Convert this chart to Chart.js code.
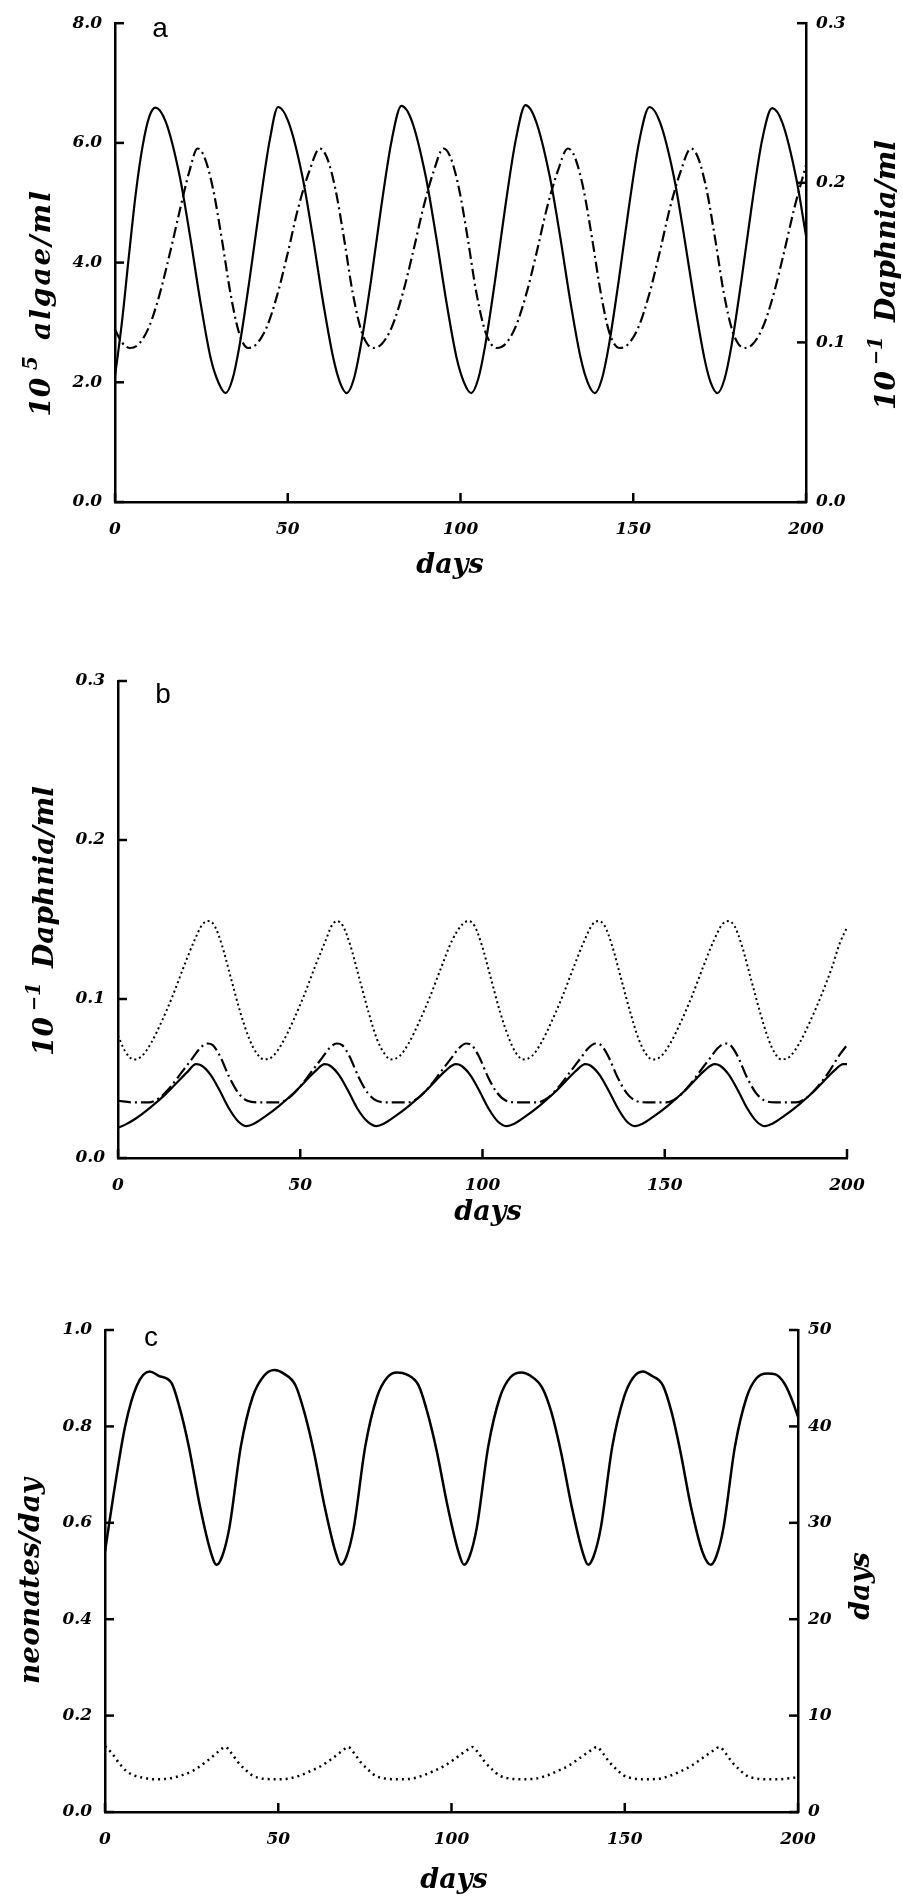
<!DOCTYPE html>
<html>
<head>
<meta charset="utf-8">
<script src="https://cdn.jsdelivr.net/npm/chart.js@4.4.1/dist/chart.umd.min.js"></script>
<style>
  html, body { margin: 0; padding: 0; background: #fff; }
  body { width: 903px; height: 1896px; position: relative; overflow: hidden; }
  canvas { position: absolute; left: 0; }
</style>
</head>
<body>
<canvas id="chartA" width="903" height="600" style="top:0px"></canvas>
<canvas id="chartB" width="903" height="620" style="top:620px"></canvas>
<canvas id="chartC" width="903" height="626" style="top:1270px"></canvas>
<script>
// tick values
var dayTicks = [0, 50, 100, 150, 200];
var algaeTicks = [0, 2, 4, 6, 8];
var daphTicks = [0, 0.1, 0.2, 0.3];
var neoTicks = [0, 0.2, 0.4, 0.6, 0.8, 1.0];
var ageTicks = [0, 10, 20, 30, 40, 50];

// panel a : algae (10^5/ml) and Daphnia (10^-1/ml), [day, value]
var algaeA = [[0,2.1],[2,3.0],[4,4.1],[6,5.15],[8,5.95],[10,6.45],[11.7,6.59],[14.7,6.35],[18.7,5.45],[21.7,4.45],[24.7,3.35],[27.7,2.4],[29.9,2.0],[32,1.82],
  [34,2.05],[36,2.6],[38.9,3.7],[41.9,4.95],[44.8,6.05],[47.2,6.6],[50.2,6.35],[54.2,5.45],[57.2,4.45],[60.2,3.35],[63.2,2.4],[65.1,2.0],[67.1,1.82],
  [69.1,2.05],[71.1,2.6],[74.1,3.7],[77.1,4.95],[80.1,6.05],[82.9,6.62],[85.9,6.37],[89.9,5.45],[92.9,4.45],[95.9,3.35],[98.9,2.4],[101,2.0],[103.1,1.82],
  [105.1,2.05],[107.1,2.6],[110,3.7],[113,4.95],[116,6.05],[118.8,6.63],[121.8,6.37],[125.8,5.45],[128.8,4.45],[131.8,3.35],[134.8,2.4],[136.8,2.0],[138.9,1.82],
  [140.9,2.05],[142.9,2.6],[145.8,3.7],[148.8,4.95],[151.8,6.05],[154.7,6.6],[157.7,6.35],[161.7,5.45],[164.7,4.45],[167.7,3.35],[170.6,2.4],[172.4,2.0],[174.4,1.82],
  [176.4,2.05],[178.4,2.6],[181.3,3.7],[184.3,4.95],[187.3,6.05],[190.2,6.58],[193.2,6.33],[197.2,5.4],[200,4.45]];
var daphA = [[0,0.108],[2,0.1],[4.4,0.0965],[6.9,0.099],[9.9,0.11],[12.9,0.13],[15.9,0.156],[18.9,0.184],[21.5,0.207],[23.9,0.2215],[25.9,0.216],[28.4,0.196],[30.9,0.165],[33.4,0.131],[35.9,0.106],
  [38.5,0.0965],[41,0.099],[44,0.11],[47,0.13],[50,0.156],[53,0.184],[56.2,0.207],[59.3,0.2215],[61.3,0.216],[63.8,0.196],[66.3,0.165],[68.8,0.131],[71.5,0.106],
  [74.7,0.0965],[77.2,0.099],[80.2,0.11],[83.2,0.13],[86.2,0.156],[89.2,0.184],[92.2,0.207],[95.1,0.2215],[97.1,0.216],[99.6,0.196],[102.1,0.165],[104.6,0.131],[107.3,0.106],
  [110.5,0.0965],[113,0.099],[116,0.11],[119,0.13],[122,0.156],[125,0.184],[128.1,0.207],[131.1,0.2215],[133.1,0.216],[135.6,0.196],[138.1,0.165],[140.6,0.131],[143.1,0.106],
  [146.1,0.0965],[148.6,0.099],[151.6,0.11],[154.6,0.13],[157.6,0.156],[160.6,0.184],[163.7,0.207],[166.7,0.2215],[168.7,0.216],[171.2,0.196],[173.7,0.165],[176.2,0.131],[178.9,0.106],
  [182.1,0.0965],[184.6,0.099],[187.6,0.11],[190.6,0.13],[193.6,0.156],[196.6,0.184],[200,0.211]];

// panel b : three Daphnia runs (10^-1/ml)
var daphHigh = [[0,0.077],[2,0.067],[4.3,0.062],[6.5,0.064],[9,0.072],[12,0.086],[15,0.102],[18,0.12],[21,0.137],[23.2,0.147],[24.9,0.149],[26.5,0.146],[28.5,0.134],[31,0.113],[33.5,0.092],[36,0.075],[38,0.066],
  [40.1,0.062],[42.5,0.064],[45,0.072],[48,0.086],[51,0.102],[54,0.12],[57,0.137],[58.6,0.146],[60.1,0.149],[61.7,0.146],[63.7,0.134],[66.2,0.113],[68.7,0.092],[71,0.075],[73,0.066],
  [74.8,0.062],[77.2,0.064],[79.7,0.072],[82.7,0.086],[85.7,0.102],[88.7,0.12],[91.7,0.137],[94.5,0.147],[96.2,0.149],[97.8,0.146],[99.8,0.134],[102.3,0.113],[104.8,0.092],[107.3,0.075],[109.2,0.066],
  [111.1,0.062],[113.5,0.064],[116,0.072],[119,0.086],[122,0.102],[125,0.12],[128,0.137],[130.2,0.147],[131.9,0.149],[133.5,0.146],[135.5,0.134],[138,0.113],[140.5,0.092],[142.8,0.075],[144.7,0.066],
  [146.6,0.062],[149,0.064],[151.5,0.072],[154.5,0.086],[157.5,0.102],[160.5,0.12],[163.5,0.137],[165.8,0.147],[167.5,0.149],[169.1,0.146],[171.1,0.134],[173.6,0.113],[176.1,0.092],[178.4,0.075],[180.2,0.066],
  [182,0.062],[184.4,0.064],[186.9,0.072],[189.9,0.086],[192.9,0.102],[195.9,0.12],[198,0.135],[200,0.145]];
var daphMid = [[0,0.036],[4,0.035],[8.5,0.035],[11.5,0.038],[14.5,0.045],[17.5,0.054],[20.5,0.063],[22.5,0.069],[24.5,0.072],[26,0.071],[28,0.064],[30.5,0.051],[33,0.041],[35.5,0.036],[38.5,0.035],
  [44,0.035],[47,0.038],[50,0.045],[53,0.054],[56,0.063],[58,0.069],[60,0.072],[61.5,0.071],[63.5,0.064],[66,0.051],[68.5,0.041],[71,0.036],[74,0.035],
  [79.5,0.035],[82.5,0.038],[85.5,0.045],[88.5,0.054],[91.5,0.063],[93.5,0.069],[95.5,0.072],[97,0.071],[99,0.064],[101.5,0.051],[104,0.041],[106.5,0.036],[109.5,0.035],
  [115,0.035],[118,0.038],[121,0.045],[124,0.054],[127,0.063],[129,0.069],[131,0.072],[132.5,0.071],[134.5,0.064],[137,0.051],[139.5,0.041],[142,0.036],[145,0.035],
  [150.5,0.035],[153.5,0.038],[156.5,0.045],[159.5,0.054],[162.5,0.063],[164.5,0.069],[166.5,0.072],[168,0.071],[170,0.064],[172.5,0.051],[175,0.041],[177.5,0.036],[180.5,0.035],
  [186,0.035],[189,0.038],[192,0.045],[195,0.054],[198,0.065],[200,0.071]];
var daphLow = [[0,0.019],[2,0.021],[5,0.025],[9,0.032],[13,0.04],[16,0.047],[19,0.054],[21.4,0.059],[23,0.058],[25.5,0.052],[28,0.042],[30.5,0.031],[33,0.023],
  [35.3,0.02],[37.3,0.0215],[40.3,0.026],[44.3,0.033],[48.3,0.041],[51.3,0.048],[54.3,0.055],[56.7,0.059],[58.2,0.058],[60.7,0.052],[63.2,0.042],[65.7,0.031],[68.4,0.023],
  [70.9,0.02],[72.9,0.0215],[75.9,0.026],[79.9,0.033],[83.9,0.041],[86.9,0.048],[89.9,0.055],[92.7,0.059],[94.2,0.058],[96.7,0.052],[99.2,0.042],[101.7,0.031],[104.2,0.023],
  [106.7,0.02],[108.7,0.0215],[111.7,0.026],[115.7,0.033],[119.7,0.041],[122.7,0.048],[125.7,0.055],[128.2,0.059],[129.7,0.058],[132.2,0.052],[134.7,0.042],[137.2,0.031],[139.6,0.023],
  [141.9,0.02],[143.9,0.0215],[146.9,0.026],[150.9,0.033],[154.9,0.041],[157.9,0.048],[160.9,0.055],[163.7,0.059],[165.2,0.058],[167.7,0.052],[170.2,0.042],[172.7,0.031],[175.2,0.023],
  [177.5,0.02],[179.5,0.0215],[182.5,0.026],[186.5,0.033],[190.5,0.041],[193.5,0.048],[196.5,0.055],[199,0.059],[200,0.059]];

// panel c : neonates/day and days (juvenile period)
var neonates = [[0,0.54],[2.5,0.66],[5.8,0.8],[9.2,0.885],[12.9,0.914],[15.5,0.905],[19.2,0.89],[21.5,0.84],[24.2,0.758],[27.5,0.631],[30.5,0.54],[32.2,0.513],
  [33.8,0.53],[35.9,0.59],[39.2,0.758],[42.6,0.861],[45.9,0.905],[48.9,0.917],[51.5,0.91],[55,0.885],[57.5,0.83],[60.2,0.75],[63.5,0.63],[66.5,0.54],[68.1,0.513],
  [69.7,0.53],[71.8,0.59],[75.1,0.758],[78.5,0.861],[81.5,0.902],[84.3,0.912],[87,0.908],[90.5,0.885],[93,0.83],[95.7,0.75],[99,0.63],[102,0.54],[103.6,0.513],
  [105.2,0.53],[107.3,0.59],[110.6,0.758],[114,0.861],[117,0.902],[120.2,0.912],[122.8,0.905],[126.2,0.88],[128.8,0.83],[131.5,0.75],[134.8,0.63],[137.8,0.54],[139.4,0.513],
  [141,0.53],[143.1,0.59],[146.4,0.758],[149.8,0.861],[152.3,0.9],[155.2,0.914],[157.8,0.905],[161,0.885],[163.5,0.83],[166,0.75],[169.2,0.63],[172.4,0.54],[174.8,0.513],
  [176.4,0.53],[178.5,0.59],[181.8,0.758],[185.2,0.861],[188,0.9],[191.1,0.91],[193.5,0.908],[196,0.89],[198,0.86],[200,0.82]];
var juvDays = [[0,6.8],[2,6.1],[4,5.1],[6,4.3],[8.3,3.8],[11,3.55],[14.2,3.4],[18,3.45],[22.5,3.85],[25.5,4.3],[27.5,4.76],[29.5,5.3],[31.7,5.95],[33.5,6.5],[34.7,6.75],
  [36.5,6.1],[38.4,5.16],[40.5,4.4],[42.6,3.77],[45,3.5],[48,3.4],[52,3.42],[56,3.75],[59,4.2],[62.5,4.8],[65,5.4],[67.2,6.0],[69,6.5],[70.1,6.75],
  [71.9,6.1],[73.8,5.16],[75.9,4.4],[78,3.77],[80.5,3.5],[83.5,3.4],[87.5,3.42],[91.5,3.75],[94.5,4.2],[98,4.8],[100.5,5.4],[102.8,6.0],[104.8,6.5],[106,6.75],
  [107.8,6.1],[109.7,5.16],[111.8,4.4],[113.9,3.77],[116.3,3.5],[119.3,3.4],[123.3,3.42],[127.3,3.75],[130.3,4.2],[133.8,4.8],[136.3,5.4],[138.6,6.0],[140.7,6.5],[141.9,6.75],
  [143.7,6.1],[145.6,5.16],[147.7,4.4],[149.8,3.77],[152.2,3.5],[155.2,3.4],[159.2,3.42],[163,3.75],[166,4.2],[169.2,4.8],[171.7,5.4],[174,6.0],[176.1,6.5],[177.3,6.75],
  [179.1,6.1],[181,5.16],[183.1,4.4],[185.2,3.77],[187.6,3.5],[190.6,3.4],[194.6,3.4],[197.5,3.5],[200,3.6]];

var SERIF = "'DejaVu Serif', serif";
var tickFont = { family: SERIF, size: 17, style: 'italic', weight: 'bold' };

// axis titles as text pieces, so exponents can be raised
var algaeTitle = [{ t: '10', size: 28 }, { t: '5', size: 20, rise: 11, gap: 8 }, { t: 'algae/ml', size: 28, gap: 16, ls: 2 }];
var daphTitle = [{ t: '10', size: 28 }, { t: '\u2212', size: 18, rise: 11, gap: 6 }, { t: '1', size: 20, rise: 11 }, { t: 'Daphnia/ml', size: 28, gap: 14 }];
var neoTitle = [{ t: 'neonates/day', size: 28 }];
var dayTitle = [{ t: 'days', size: 27 }];

function pts(arr) {
  return arr.map(function (p) { return { x: p[0], y: p[1] }; });
}

function series(arr, axis, dash, width) {
  return {
    data: pts(arr),
    yAxisID: axis,
    borderColor: '#000',
    borderWidth: width || 2,
    borderDash: dash || [],
    pointRadius: 0,
    fill: false,
    cubicInterpolationMode: 'monotone'
  };
}

function fixed(n) {
  return function (v) { return Number(v).toFixed(n); };
}

// tick marks pointing into the plot area
var inwardTicks = {
  id: 'inwardTicks',
  afterDraw: function (chart) {
    var ctx = chart.ctx, area = chart.chartArea;
    ctx.save();
    ctx.strokeStyle = '#000';
    ctx.lineWidth = 2.5;
    Object.keys(chart.scales).forEach(function (id) {
      var s = chart.scales[id];
      s.ticks.forEach(function (t, i) {
        var p = s.getPixelForTick(i);
        ctx.beginPath();
        if (s.position === 'bottom') { ctx.moveTo(p, area.bottom); ctx.lineTo(p, area.bottom - 9); }
        else if (s.position === 'left') { ctx.moveTo(area.left, p); ctx.lineTo(area.left + 9, p); }
        else { ctx.moveTo(area.right, p); ctx.lineTo(area.right - 9, p); }
        ctx.stroke();
      });
    });
    ctx.restore();
  }
};

function drawTitle(ctx, segs, cx, cy, vertical) {
  var total = 0;
  segs.forEach(function (s) {
    ctx.font = 'italic bold ' + s.size + 'px ' + SERIF;
    ctx.letterSpacing = (s.ls || 0) + 'px';
    s.w = ctx.measureText(s.t).width;
    total += (s.gap || 0) + s.w;
  });
  ctx.save();
  ctx.translate(cx, cy);
  if (vertical) ctx.rotate(-Math.PI / 2);
  ctx.textAlign = 'left';
  ctx.textBaseline = 'middle';
  var x = -total / 2;
  segs.forEach(function (s) {
    x += s.gap || 0;
    ctx.font = 'italic bold ' + s.size + 'px ' + SERIF;
    ctx.letterSpacing = (s.ls || 0) + 'px';
    ctx.fillText(s.t, x, -(s.rise || 0));
    x += s.w;
  });
  ctx.restore();
}

// panel letter and the axis titles
var decorations = {
  id: 'decorations',
  afterDraw: function (chart, args, opts) {
    var ctx = chart.ctx, area = chart.chartArea;
    ctx.save();
    ctx.fillStyle = '#000';
    ctx.font = "28px 'Liberation Sans', sans-serif";
    ctx.textAlign = 'center';
    ctx.textBaseline = 'alphabetic';
    ctx.fillText(opts.letter, area.left + opts.letterX, area.top + opts.letterY);
    (opts.titles || []).forEach(function (tt) {
      drawTitle(ctx, tt.segs, tt.x, tt.y, tt.vertical);
    });
    ctx.restore();
  }
};

function xAxis(h) {
  return {
    type: 'linear', position: 'bottom', min: 0, max: 200,
    afterBuildTicks: function (s) { s.ticks = dayTicks.map(function (v) { return { value: v }; }); },
    afterFit: function (s) { s.height = h; },
    grid: { display: false, drawTicks: false },
    border: { display: true, color: '#000', width: 2.5 },
    ticks: { font: tickFont, color: '#000', padding: 17, maxRotation: 0, autoSkip: false }
  };
}

function yAxis(pos, min, max, tickVals, w, fmt) {
  return {
    type: 'linear', position: pos, min: min, max: max,
    afterBuildTicks: function (s) { s.ticks = tickVals.map(function (v) { return { value: v }; }); },
    afterFit: function (s) { s.width = w; },
    grid: { display: false, drawTicks: false },
    border: { display: true, color: '#000', width: 2.5 },
    ticks: { font: tickFont, color: '#000', padding: pos === 'left' ? 13 : 10, callback: fmt, autoSkip: false }
  };
}

function baseOptions(pad, scales, deco) {
  return {
    responsive: false,
    animation: false,
    layout: { padding: pad },
    scales: scales,
    plugins: { legend: { display: false }, tooltip: { enabled: false }, decorations: deco }
  };
}

new Chart(document.getElementById('chartA'), {
  type: 'line',
  data: { datasets: [
    series(algaeA, 'yL', [], 2.2),
    series(daphA, 'yR', [11, 4, 2, 4], 2.2)
  ] },
  options: baseOptions({ top: 20, left: 0, right: 0, bottom: 0 }, {
    x: xAxis(98),
    yL: yAxis('left', 0, 8, algaeTicks, 115, fixed(1)),
    yR: yAxis('right', 0, 0.3, daphTicks, 97, fixed(1))
  }, {
    letter: 'a', letterX: 45, letterY: 14,
    titles: [
      { segs: algaeTitle, x: 43, y: 303, vertical: true },
      { segs: daphTitle, x: 888, y: 275, vertical: true },
      { segs: dayTitle, x: 450, y: 566 }
    ]
  }),
  plugins: [inwardTicks, decorations]
});

new Chart(document.getElementById('chartB'), {
  type: 'line',
  data: { datasets: [
    series(daphHigh, 'yL', [2, 3], 2),
    series(daphMid, 'yL', [13, 4, 2, 4], 2.2),
    series(daphLow, 'yL', [], 2.2)
  ] },
  options: baseOptions({ top: 61, left: 0, right: 56, bottom: 0 }, {
    x: xAxis(82),
    yL: yAxis('left', 0, 0.3, daphTicks, 118, fixed(1))
  }, {
    letter: 'b', letterX: 45, letterY: 22,
    titles: [
      { segs: daphTitle, x: 46, y: 301, vertical: true },
      { segs: dayTitle, x: 488, y: 593 }
    ]
  }),
  plugins: [inwardTicks, decorations]
});

new Chart(document.getElementById('chartC'), {
  type: 'line',
  data: { datasets: [
    series(neonates, 'yL', [], 2.5),
    series(juvDays, 'yR', [2, 4], 2.5)
  ] },
  options: baseOptions({ top: 60, left: 0, right: 0, bottom: 0 }, {
    x: xAxis(84),
    yL: yAxis('left', 0, 1, neoTicks, 105, fixed(1)),
    yR: yAxis('right', 0, 50, ageTicks, 105, fixed(0))
  }, {
    letter: 'c', letterX: 46, letterY: 16,
    titles: [
      { segs: neoTitle, x: 32, y: 311, vertical: true },
      { segs: dayTitle, x: 862, y: 316, vertical: true },
      { segs: dayTitle, x: 454, y: 611 }
    ]
  }),
  plugins: [inwardTicks, decorations]
});
</script>
</body>
</html>
